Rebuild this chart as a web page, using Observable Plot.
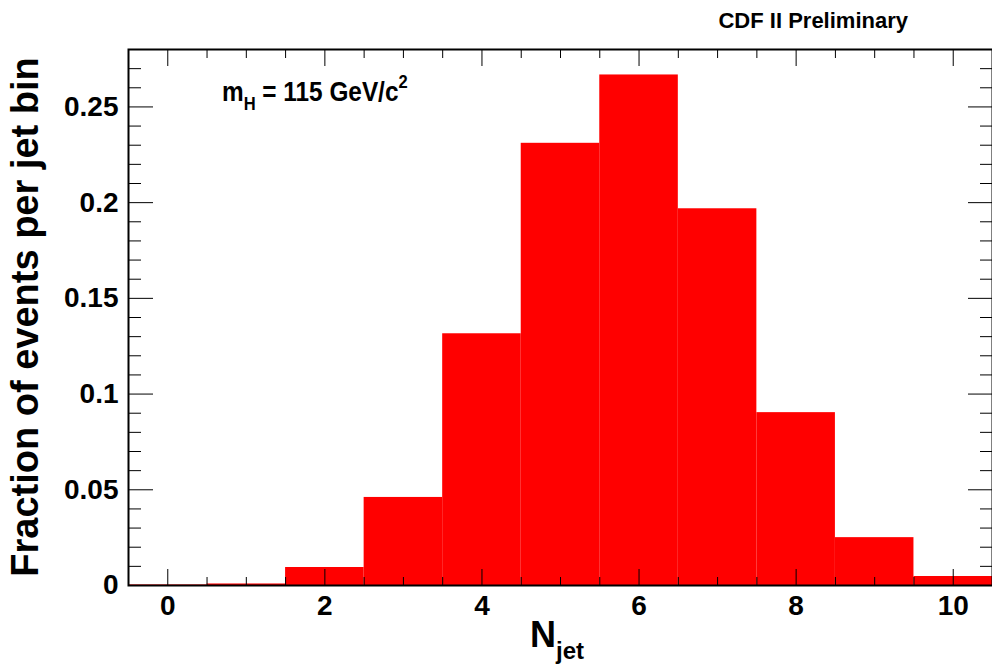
<!DOCTYPE html>
<html>
<head>
<meta charset="utf-8">
<script src="https://cdn.jsdelivr.net/npm/d3@7"></script>
<script src="https://cdn.jsdelivr.net/npm/@observablehq/plot@0.6"></script>
<style>
  html, body { margin: 0; padding: 0; background: #fff; }
  svg { display: block; }
</style>
</head>
<body>
<div id="chart"></div>
<script>
// Data
const nJet = [0, 1, 2, 3, 4, 5, 6, 7, 8, 9, 10];
const fraction = [0.0003, 0.0008, 0.0094, 0.046, 0.1315, 0.231, 0.2667, 0.1968, 0.0903, 0.025, 0.0047];
const xMajorTicks = [0, 2, 4, 6, 8, 10];
const xMinorTicks = [-0.5, 0.5, 1, 1.5, 2.5, 3, 3.5, 4.5, 5, 5.5, 6.5, 7, 7.5, 8.5, 9, 9.5, 10.5];
const yMajorTicks = [0, 0.05, 0.1, 0.15, 0.2, 0.25];
const yMinorTicks = [0.01, 0.02, 0.03, 0.04, 0.06, 0.07, 0.08, 0.09, 0.11, 0.12, 0.13, 0.14, 0.16, 0.17, 0.18, 0.19, 0.21, 0.22, 0.23, 0.24, 0.26, 0.27];
const yTickLabels = ["0", "0.05", "0.1", "0.15", "0.2", "0.25"];
const xTickLabels = ["0", "2", "4", "6", "8", "10"];

const rows = nJet.map((n, i) => ({n, f: fraction[i]}));
const font = "'Liberation Sans', Arial, Helvetica, sans-serif";

const plot = Plot.plot({
  width: 992,
  height: 666,
  marginLeft: 128,
  marginRight: 0,
  marginTop: 49,
  marginBottom: 81,
  style: {fontFamily: font, fontWeight: "bold", color: "#000", background: "#fff"},
  x: {domain: [-0.5, 10.5]},
  y: {domain: [0, 0.28]},
  marks: [
    Plot.rectY(rows, {x1: d => d.n - 0.5, x2: d => d.n + 0.5, y: "f", fill: "#ff0000"}),
    // tick labels
    Plot.axisX(xMajorTicks, {anchor: "bottom", tickSize: 0, tickPadding: 10, fontSize: 28, tickFormat: (d, i) => xTickLabels[i], label: null}),
    Plot.axisY(yMajorTicks, {anchor: "left", tickSize: 0, tickPadding: 10, fontSize: 28, tickFormat: (d, i) => yTickLabels[i], label: null}),
    // inside ticks (ROOT style)
    Plot.axisX(xMajorTicks, {anchor: "bottom", tickSize: -16, tickFormat: () => "", label: null}),
    Plot.axisX(xMinorTicks, {anchor: "bottom", tickSize: -8, tickFormat: () => "", label: null}),
    Plot.axisX(xMajorTicks, {anchor: "top", tickSize: -16, tickFormat: () => "", label: null}),
    Plot.axisX(xMinorTicks, {anchor: "top", tickSize: -8, tickFormat: () => "", label: null}),
    Plot.axisY(yMajorTicks, {anchor: "left", tickSize: -25, tickFormat: () => "", label: null}),
    Plot.axisY(yMinorTicks, {anchor: "left", tickSize: -13, tickFormat: () => "", label: null}),
    Plot.axisY(yMajorTicks, {anchor: "right", tickSize: -25, tickFormat: () => "", label: null}),
    Plot.axisY(yMinorTicks, {anchor: "right", tickSize: -13, tickFormat: () => "", label: null}),
    Plot.frame({stroke: "#000", strokeWidth: 2})
  ]
});

const svg = d3.select(plot);

// Header text
svg.append("text")
  .attr("x", 908).attr("y", 28)
  .attr("text-anchor", "end")
  .attr("font-family", font).attr("font-weight", "bold").attr("font-size", 22)
  .text("CDF II Preliminary");

// m_H = 115 GeV/c^2
const mh = svg.append("text")
  .attr("transform", "translate(222,101) scale(0.87,1)")
  .attr("text-anchor", "start")
  .attr("font-family", font).attr("font-weight", "bold").attr("font-size", 28);
mh.append("tspan").text("m");
mh.append("tspan").attr("font-size", 19).attr("dy", 9).text("H");
mh.append("tspan").attr("dy", -9).text(" = 115 GeV/c");
mh.append("tspan").attr("font-size", 19).attr("dy", -13).text("2");

// Y axis title
svg.append("text")
  .attr("transform", "translate(38,317) rotate(-90)")
  .attr("text-anchor", "middle")
  .attr("font-family", font).attr("font-weight", "bold").attr("font-size", 38)
  .text("Fraction of events per jet bin");

// X axis title N_jet
const xt = svg.append("text")
  .attr("x", 530).attr("y", 647)
  .attr("text-anchor", "start")
  .attr("font-family", font).attr("font-weight", "bold").attr("font-size", 36);
xt.append("tspan").text("N");
xt.append("tspan").attr("font-size", 24).attr("dy", 12).text("jet");

document.getElementById("chart").appendChild(plot);
</script>
</body>
</html>
